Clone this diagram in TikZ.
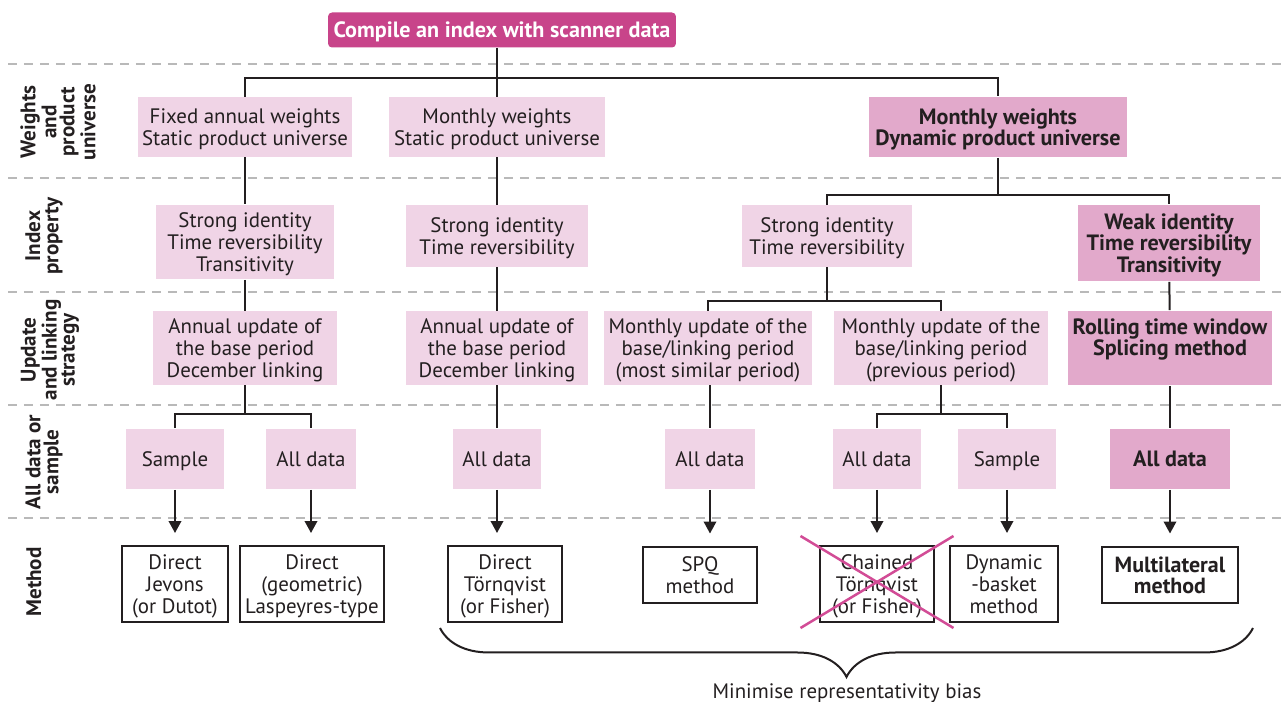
\documentclass[tikz,border=0pt]{standalone}
\usepackage{fontspec}
\setmainfont{PT Sans}
\usetikzlibrary{arrows.meta,decorations.pathreplacing}
\definecolor{pinklight}{HTML}{F0D4E6}
\definecolor{pinkdark}{HTML}{E2A9CB}
\definecolor{pinkhead}{HTML}{C8448A}
\definecolor{pinkcross}{HTML}{D24C96}
\definecolor{inkline}{HTML}{231F20}

\begin{document}
\begin{tikzpicture}[x=0.02cm,y=-0.02cm]

    \tikzstyle{box}+=[
        inner sep=0pt,
        align=center,
        text depth=0pt,
        text=inkline,
        font=\fontsize{11.9}{12.6}\selectfont
    ]
    \tikzstyle{lightbox}+=[
        box,
        fill=pinklight
    ]
    \tikzstyle{darkbox}+=[
        box,
        fill=pinkdark,
        font=\fontsize{12.6}{12.3}\selectfont\bfseries
    ]
    \tikzstyle{methodbox}+=[
        box,
        draw=inkline,
        line width=0.4mm,
        fill=white
    ]
    \tikzstyle{headbox}+=[
        box,
        fill=pinkhead,
        rounded corners=0.8mm,
        text=white,
        font=\fontsize{12.6}{13}\selectfont\bfseries
    ]
    \tikzstyle{rowlabel}+=[
        align=center,
        rotate=90,
        inner sep=0pt,
        text=inkline,
        font=\fontsize{12}{10.3}\selectfont\bfseries
    ]
    \tikzstyle{rowsep}+=[
        gray!55,
        line width=0.6pt,
        dash pattern=on 1.9mm off 1.3mm
    ]
    \tikzstyle{link}+=[
        draw=inkline,
        line width=0.4mm
    ]
    \tikzstyle{arrow}+=[
        link,
        -{Triangle[length=2.4mm,width=2.5mm]},
        shorten >=2.4mm
    ]
    \tikzstyle{cross}+=[
        pinkcross,
        line width=0.5mm
    ]

    \useasboundingbox (0,0) rectangle (1286,702);

    % ----------------------------------------------------------------------------
    \foreach \y in {64,178,292,405,518}
        \draw[rowsep] (8,\y) -- (1283,\y);

    \node[rowlabel] (lweights) at (58,122) {Weights\\and\\product\\universe};
    \node[rowlabel] (lindex) at (44,236) {Index\\property};
    \node[rowlabel] (lupdate) at (50,350) {Update\\and linking\\strategy};
    \node[rowlabel] (lsample) at (44,462) {All data or\\sample};
    \node[rowlabel] (lmethod) at (34,582) {Method};

    % ----------------------------------------------------------------------------
    \node[headbox,minimum width=6.96cm,minimum height=0.7cm] (head) at (502,30) {Compile an index with scanner data};

    \node[lightbox,minimum width=4.28cm,minimum height=1.2cm] (wfixed) at (245,127) {Fixed annual weights\\Static product universe};
    \node[lightbox,minimum width=4.34cm,minimum height=1.2cm] (wmonthly) at (497,127) {Monthly weights\\Static product universe};
    \node[darkbox,minimum width=5.16cm,minimum height=1.22cm] (wdynamic) at (998,127) {Monthly weights\\Dynamic product universe};

    \node[lightbox,minimum width=3.56cm,minimum height=1.5cm] (pfixed) at (245,242) {Strong identity\\Time reversibility\\Transitivity};
    \node[lightbox,minimum width=3.66cm,minimum height=1.24cm] (pmonthly) at (497,236) {Strong identity\\Time reversibility};
    \node[lightbox,minimum width=3.4cm,minimum height=1.24cm] (pstrong) at (827,236) {Strong identity\\Time reversibility};
    \node[darkbox,minimum width=3.64cm,minimum height=1.54cm] (pweak) at (1169,243) {Weak identity\\Time reversibility\\Transitivity};

    \node[lightbox,minimum width=3.68cm,minimum height=1.48cm] (ufixed) at (245,348) {Annual update of\\the base period\\December linking};
    \node[lightbox,minimum width=3.66cm,minimum height=1.48cm] (umonthly) at (497,348) {Annual update of\\the base period\\December linking};
    \node[lightbox,minimum width=4.16cm,minimum height=1.48cm] (usimilar) at (708,348) {Monthly update of the\\base/linking period\\(most similar period)};
    \node[lightbox,minimum width=4.3cm,minimum height=1.48cm] (uprevious) at (941,348) {Monthly update of the\\base/linking period\\(previous period)};
    \node[darkbox,minimum width=4.1cm,minimum height=1.5cm] (urolling) at (1170,348) {Rolling time window\\Splicing method\\\mbox{}};

    \node[lightbox,minimum width=1.98cm,minimum height=1.22cm] (dsample) at (175,459) {Sample};
    \node[lightbox,minimum width=1.82cm,minimum height=1.22cm] (dall) at (311,459) {All data};
    \node[lightbox,minimum width=1.76cm,minimum height=1.22cm] (dmonthly) at (497,459) {All data};
    \node[lightbox,minimum width=1.8cm,minimum height=1.22cm] (dsimilar) at (710,459) {All data};
    \node[lightbox,minimum width=1.78cm,minimum height=1.22cm] (dprevious) at (877,459) {All data};
    \node[lightbox,minimum width=1.98cm,minimum height=1.22cm] (dbasket) at (1007,459) {Sample};
    \node[darkbox,minimum width=2.4cm,minimum height=1.22cm] (drolling) at (1170,459) {All data};

    \node[methodbox,minimum width=2.14cm,minimum height=1.52cm] (mjevons) at (175,584) {Direct\\Jevons\\(or Dutot)};
    \node[methodbox,minimum width=2.9cm,minimum height=1.52cm] (mlaspeyres) at (312,584) {Direct\\(geometric)\\Laspeyres-type};
    \node[methodbox,minimum width=2.3cm,minimum height=1.52cm] (mtornqvist) at (505,584) {Direct\\Törnqvist\\(or Fisher)};
    \node[methodbox,minimum width=2.3cm,minimum height=1.14cm] (mspq) at (700,575) {SPQ\\method};
    \node[methodbox,minimum width=2.3cm,minimum height=1.52cm] (mchained) at (877,584) {Chained\\Törnqvist\\(or Fisher)};
    \node[methodbox,minimum width=2.18cm,minimum height=1.52cm] (mbasket) at (1004,584) {Dynamic\\-basket\\method};
    \node[methodbox,minimum width=2.72cm,minimum height=1.14cm,font=\fontsize{12.5}{12.3}\selectfont\bfseries] (mmulti) at (1170,575) {Multilateral\\method};

    % ----------------------------------------------------------------------------
    \coordinate (forkw) at (497,78);
    \coordinate (forkp) at (998,195);
    \coordinate (forku) at (827,301);
    \coordinate (forkf) at (245,414);
    \coordinate (forkd) at (941,414);

    \draw[link] (wmonthly.north |- head.south) -- (wmonthly.north);
    \draw[link] (wfixed.north) |- (forkw) -| (wdynamic.north);
    \draw[link] (wfixed) -- (pfixed);
    \draw[link] (pfixed) -- (ufixed);
    \draw[link] (ufixed.south) -- (forkf);
    \draw[link] (dsample.north) |- (forkf) -| (dall.north);

    \draw[link] (wmonthly) -- (pmonthly);
    \draw[link] (pmonthly) -- (umonthly);
    \draw[link] (umonthly) -- (dmonthly);

    \draw[link] (wdynamic.south) -- (forkp);
    \draw[link] (pstrong.north) |- (forkp) -| (pweak.north);
    \draw[link] (pstrong.south) -- (forku);
    \draw[link] (usimilar.north) |- (forku) -| (uprevious.north);
    \draw[link] (usimilar.south -| dsimilar) -- (dsimilar.north);
    \draw[link] (uprevious.south) -- (forkd);
    \draw[link] (dprevious.north) |- (forkd) -| (dbasket.north);
    \draw[link] (pweak) -- (urolling);
    \draw[link] (urolling) -- (drolling);

    % ----------------------------------------------------------------------------
    \draw[arrow] (dsample.south) -- (dsample.south |- mjevons.north);
    \draw[arrow] (dall.south) -- (dall.south |- mlaspeyres.north);
    \draw[arrow] (dmonthly.south) -- (dmonthly.south |- mtornqvist.north);
    \draw[arrow] (dsimilar.south) -- (dsimilar.south |- mspq.north);
    \draw[arrow] (dprevious.south) -- (dprevious.south |- mchained.north);
    \draw[arrow] (dbasket.south) -- (dbasket.south |- mbasket.north);
    \draw[arrow] (drolling.south) -- (drolling.south |- mmulti.north);

    % ----------------------------------------------------------------------------
    \draw[cross] ([shift={(-18,-9)}]mchained.north west) -- ([shift={(18,5)}]mchained.south east);
    \draw[cross] ([shift={(18,-9)}]mchained.north east) -- ([shift={(-18,5)}]mchained.south west);

    \draw[link,decorate,decoration={brace,mirror,amplitude=0.98cm}] (440,628) -- (1253,628);
    \node[box,anchor=center] (bias) at (847,691) {Minimise representativity bias};

\end{tikzpicture}
\end{document}
